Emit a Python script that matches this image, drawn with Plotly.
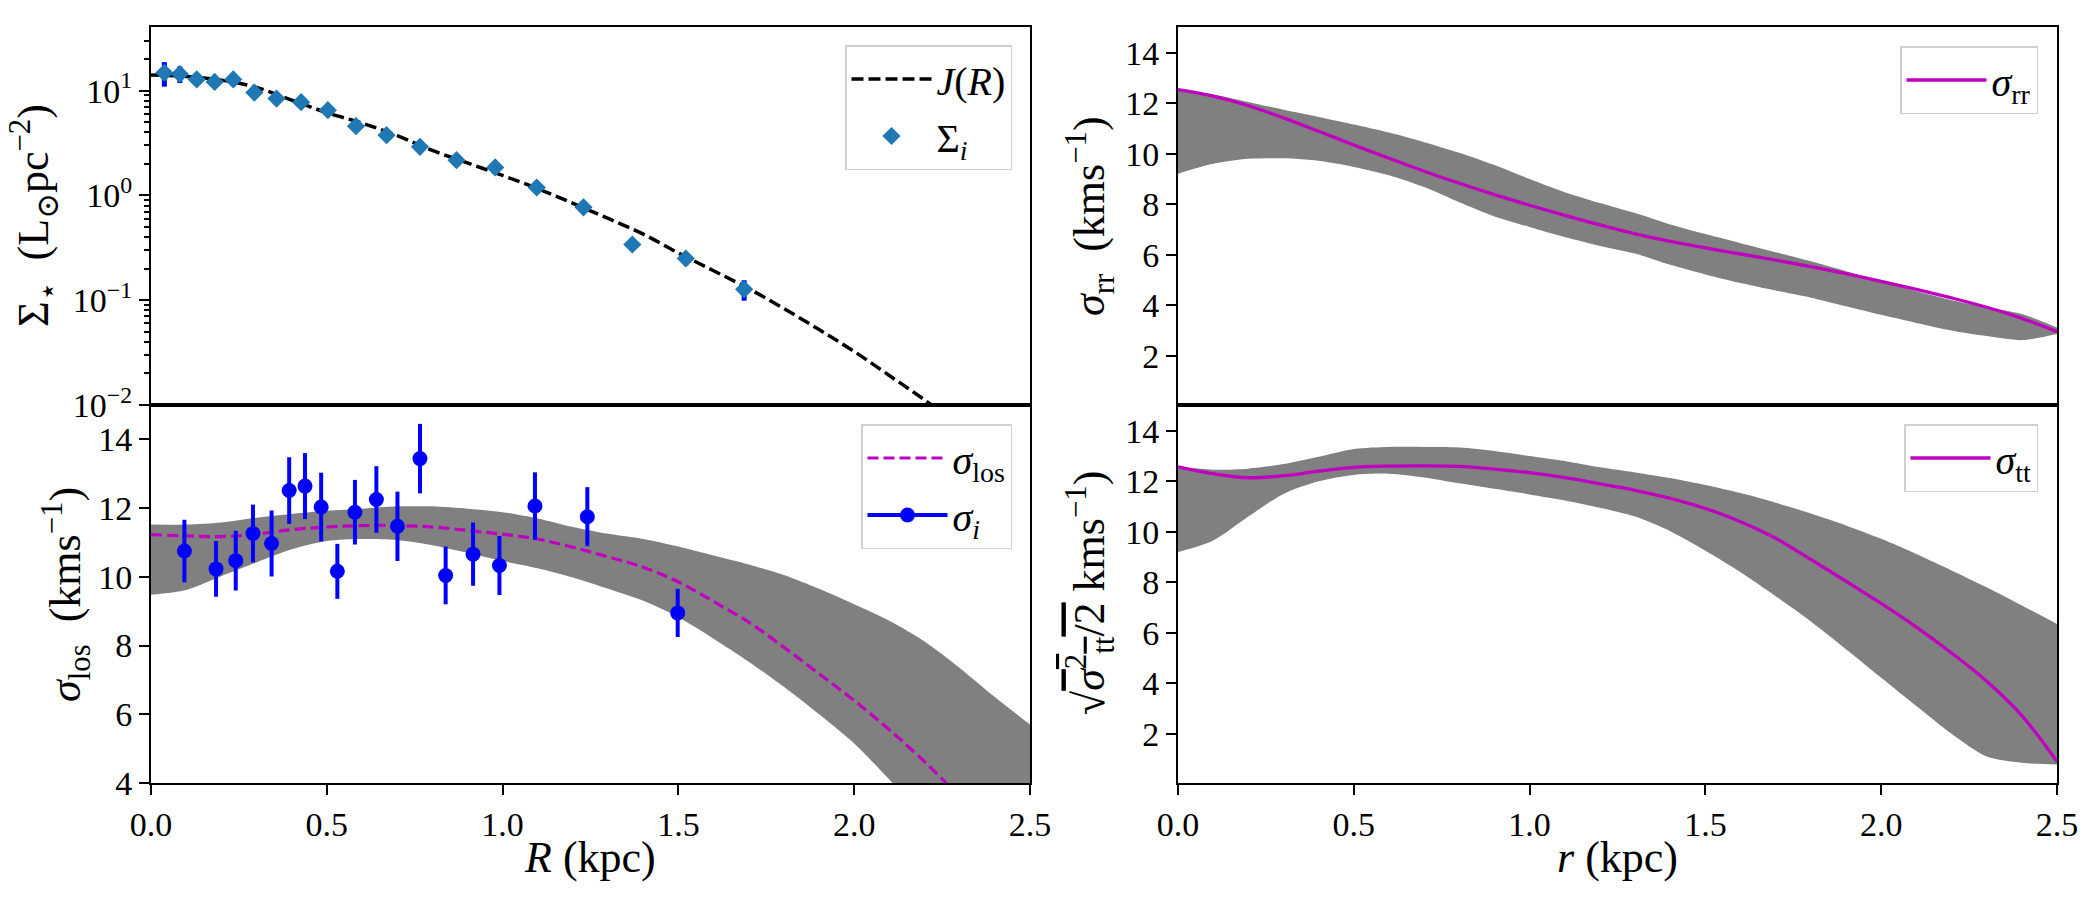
import plotly.graph_objects as go

# ---------------- data ----------------
# Top-left: surface density
R_sig = [0.038, 0.082, 0.130, 0.181, 0.234, 0.294, 0.357, 0.427, 0.503, 0.583,
         0.670, 0.765, 0.869, 0.979, 1.097, 1.230, 1.369, 1.521, 1.687]
Sig = [14.8, 14.4, 12.8, 12.1, 12.8, 9.57, 8.4, 7.75, 6.5, 4.58,
       3.76, 2.91, 2.17, 1.85, 1.19, 0.77, 0.34, 0.25, 0.127]
Sig_err = [3.9, 2.6, 1.0, 0.9, 0.9, 0.7, 0.6, 0.55, 0.45, 0.32,
           0.26, 0.2, 0.15, 0.13, 0.08, 0.055, 0.04, 0.035, 0.028]

R_J = [0.0, 0.1, 0.2, 0.3, 0.4, 0.5, 0.6, 0.7, 0.8, 0.9, 1.0, 1.1, 1.2,
       1.3, 1.4, 1.5, 1.6, 1.7, 1.8, 1.9, 2.0, 2.1, 2.2, 2.3]
J_vals = [14.13, 13.65, 12.59, 10.72, 8.13, 6.17, 4.90, 3.72, 2.69, 2.04, 1.55, 1.16,
          0.841, 0.603, 0.427, 0.282, 0.191, 0.129, 0.0832, 0.0525, 0.0324,
          0.0191, 0.0112, 0.0063]

# Bottom-left: line-of-sight dispersion
R_los_pts = [0.095, 0.185, 0.241, 0.290, 0.343, 0.393, 0.438, 0.484, 0.530, 0.580,
             0.641, 0.701, 0.765, 0.838, 0.916, 0.991, 1.092, 1.241, 1.498]
sig_i = [10.75, 10.23, 10.47, 11.26, 10.97, 12.51, 12.64, 12.03, 10.16, 11.88,
         12.25, 11.47, 13.44, 10.04, 10.66, 10.33, 12.06, 11.75, 8.95]
sig_i_err = [0.91, 0.81, 0.87, 0.84, 0.96, 0.97, 0.96, 1.0, 0.8, 0.94,
             0.97, 1.01, 1.01, 0.84, 0.92, 0.86, 0.98, 0.86, 0.7]

R_grid = [0.0, 0.1, 0.2, 0.3, 0.4, 0.5, 0.6, 0.7, 0.8, 0.9, 1.0, 1.1, 1.2,
          1.3, 1.4, 1.5, 1.6, 1.7, 1.8, 1.9, 2.0, 2.1, 2.2, 2.3, 2.4, 2.5]

sig_los = [11.23, 11.19, 11.17, 11.24, 11.37, 11.45, 11.49, 11.49, 11.45, 11.35,
           11.24, 11.10, 10.86, 10.58, 10.28, 9.85, 9.28, 8.68, 7.95, 7.18,
           6.40, 5.55, 4.62, 3.6]
los_up = [11.52, 11.52, 11.58, 11.72, 11.83, 11.92, 11.98, 12.05, 12.05, 11.98,
          11.88, 11.7, 11.45, 11.25, 11.1, 10.88, 10.62, 10.36, 10.05, 9.65,
          9.2, 8.72, 8.12, 7.35, 6.5, 5.7]
los_lo = [9.48, 9.62, 10.02, 10.42, 10.8, 11.04, 11.1, 11.07, 10.92, 10.7,
          10.46, 10.25, 9.98, 9.65, 9.3, 8.82, 8.2, 7.53, 6.8, 6.0,
          5.15, 4.1, 3.0, 2.0, 1.5, 1.0]

# Top-right: radial dispersion
sig_rr = [12.54, 12.28, 11.90, 11.42, 10.89, 10.35, 9.82, 9.31, 8.83, 8.38,
          7.96, 7.56, 7.18, 6.83, 6.53, 6.27, 6.03, 5.79, 5.53, 5.25,
          4.95, 4.63, 4.29, 3.92, 3.48, 2.95]
rr_up = [12.54, 12.35, 12.05, 11.74, 11.46, 11.16, 10.84, 10.46, 10.04, 9.55,
         9.0, 8.48, 8.05, 7.65, 7.2, 6.82, 6.46, 6.1, 5.74, 5.35,
         4.95, 4.55, 4.2, 3.92, 3.65, 3.12]
rr_lo = [9.21, 9.6, 9.8, 9.82, 9.72, 9.48, 9.15, 8.68, 8.08, 7.52,
         7.1, 6.7, 6.35, 6.05, 5.6, 5.22, 4.88, 4.58, 4.3, 3.96,
         3.62, 3.3, 3.0, 2.78, 2.62, 2.86]

# Bottom-right: tangential dispersion
sig_tt = [12.57, 12.3, 12.14, 12.22, 12.4, 12.55, 12.6, 12.61, 12.59, 12.48,
          12.34, 12.14, 11.9, 11.64, 11.32, 10.92, 10.4, 9.74, 8.9, 8.04,
          7.16, 6.22, 5.2, 4.08, 2.72, 0.9]
tt_up = [12.57, 12.46, 12.5, 12.68, 12.97, 13.28, 13.36, 13.36, 13.34, 13.2,
         13.0, 12.8, 12.55, 12.35, 12.13, 11.85, 11.53, 11.15, 10.72, 10.25,
         9.72, 9.12, 8.47, 7.8, 7.08, 6.35]
tt_lo = [9.19, 9.65, 10.6, 11.5, 12.0, 12.25, 12.3, 12.15, 11.92, 11.7,
         11.48, 11.24, 10.95, 10.6, 10.02, 9.25, 8.4, 7.45, 6.45, 5.35,
         4.22, 3.1, 2.0, 1.1, 0.85, 0.78]

x_ticks = [0.0, 0.5, 1.0, 1.5, 2.0, 2.5]

# ---------------- style ----------------
W, H = 2100, 900
FONT = "Liberation Serif, Times New Roman, DejaVu Serif, serif"
TICK_SIZE = 34
TITLE_SIZE = 44
LEG_SIZE = 40
MAG = "#BF00BF"
GRAY = "#808080"

def px(x):
    return x / W

def py(y):
    return 1 - y / H

xL = [px(151), px(1030)]
xR = [px(1178), px(2057)]
yT = [py(405), py(27)]
yB = [py(783), py(405)]

fig = go.Figure()

# ---- top-left ----
fig.add_trace(go.Scatter(x=R_J, y=J_vals, mode="lines", name="<i>J</i>(<i>R</i>)",
                         line=dict(color="black", width=3.5, dash="12px,5px", shape="spline"),
                         xaxis="x", yaxis="y", legend="legend", legendgroup="a"))
fig.add_trace(go.Scatter(x=R_sig, y=Sig, mode="markers", name="Σ<sub><i>i</i></sub>",
                         marker=dict(symbol="diamond", size=14, color="#1f77b4"),
                         error_y=dict(type="data", array=Sig_err, color="blue",
                                      thickness=5, width=0),
                         xaxis="x", yaxis="y", legend="legend", legendgroup="b"))

# ---- bottom-left ----
band = dict(mode="lines", line=dict(width=0, color=GRAY, shape="spline", smoothing=0.8),
            showlegend=False, hoverinfo="skip")
fig.add_trace(go.Scatter(x=R_grid, y=los_lo, xaxis="x2", yaxis="y2", **band))
fig.add_trace(go.Scatter(x=R_grid, y=los_up, fill="tonexty", fillcolor=GRAY,
                         xaxis="x2", yaxis="y2", **band))
fig.add_trace(go.Scatter(x=R_grid[:len(sig_los)], y=sig_los, mode="lines",
                         name="<i>σ</i><sub>los</sub>",
                         line=dict(color=MAG, width=3.2, dash="11px,5px", shape="spline"),
                         xaxis="x2", yaxis="y2", legend="legend2", legendgroup="c"))
fig.add_trace(go.Scatter(x=R_los_pts, y=sig_i, mode="markers", name="<i>σ</i><sub><i>i</i></sub>",
                         marker=dict(symbol="circle", size=15, color="blue"),
                         error_y=dict(type="data", array=sig_i_err, color="blue",
                                      thickness=4, width=0),
                         showlegend=False, xaxis="x2", yaxis="y2"))
fig.add_trace(go.Scatter(x=[None], y=[None], mode="lines+markers",
                         name="<i>σ</i><sub><i>i</i></sub>",
                         marker=dict(symbol="circle", size=15, color="blue"),
                         line=dict(color="blue", width=4),
                         xaxis="x2", yaxis="y2", legend="legend2", legendgroup="d"))

# ---- top-right ----
fig.add_trace(go.Scatter(x=R_grid, y=rr_lo, xaxis="x3", yaxis="y3", **band))
fig.add_trace(go.Scatter(x=R_grid, y=rr_up, fill="tonexty", fillcolor=GRAY,
                         xaxis="x3", yaxis="y3", **band))
fig.add_trace(go.Scatter(x=R_grid, y=sig_rr, mode="lines", name="<i>σ</i><sub>rr</sub>",
                         line=dict(color=MAG, width=3.3, shape="spline"),
                         xaxis="x3", yaxis="y3", legend="legend3"))

# ---- bottom-right ----
fig.add_trace(go.Scatter(x=R_grid, y=tt_lo, xaxis="x4", yaxis="y4", **band))
fig.add_trace(go.Scatter(x=R_grid, y=tt_up, fill="tonexty", fillcolor=GRAY,
                         xaxis="x4", yaxis="y4", **band))
fig.add_trace(go.Scatter(x=R_grid, y=sig_tt, mode="lines", name="<i>σ</i><sub>tt</sub>",
                         line=dict(color=MAG, width=3.3, shape="spline"),
                         xaxis="x4", yaxis="y4", legend="legend4"))

axis_common = dict(showline=True, linecolor="black", linewidth=2, mirror=True,
                   showgrid=False, zeroline=False, automargin=False,
                   tickfont=dict(family=FONT, size=TICK_SIZE, color="black"))

def xaxis(domain, anchor, labels):
    d = dict(axis_common, domain=domain, anchor=anchor, range=[0, 2.5])
    if labels:
        d.update(tickmode="array", tickvals=x_ticks, ticktext=[f"{v:.1f}" for v in x_ticks],
                 ticks="outside", ticklen=10, tickwidth=2, tickcolor="black")
    else:
        d.update(showticklabels=False, ticks="")
    return d

def yaxis(domain, anchor, rng, tickvals, ticktext=None, log=False):
    d = dict(axis_common, domain=domain, anchor=anchor, range=rng, tickmode="array",
             tickvals=tickvals, ticks="outside", ticklen=10, tickwidth=2, tickcolor="black")
    if ticktext is not None:
        d["ticktext"] = ticktext
    if log:
        d["type"] = "log"
    return d

minor_vals = [m * 10 ** e for e in (-2, -1, 0, 1) for m in range(2, 10) if m * 10 ** e < 40]

legend_common = dict(bgcolor="rgba(255,255,255,0.85)", bordercolor="#d0d0d0", borderwidth=1.5,
                     font=dict(family=FONT, size=LEG_SIZE, color="black"),
                     xanchor="right", yanchor="top", itemwidth=80,
                     traceorder="grouped", tracegroupgap=2)

fig.update_layout(
    width=W, height=H,
    margin=dict(l=0, r=0, t=0, b=0, autoexpand=False),
    paper_bgcolor="white", plot_bgcolor="white",
    font=dict(family=FONT, color="black"),
    xaxis=xaxis(xL, "y", False),
    xaxis2=xaxis(xL, "y2", True),
    xaxis3=xaxis(xR, "y3", False),
    xaxis4=xaxis(xR, "y4", True),
    yaxis=dict(yaxis(yT, "x", [-2, 1.607], [0.01, 0.1, 1, 10],
                     ["10<sup>−2</sup>", "10<sup>−1</sup>", "10<sup>0</sup>", "10<sup>1</sup>"],
                     log=True),
               minor=dict(tickmode="array", tickvals=minor_vals, ticks="outside",
                          ticklen=5, tickwidth=1.5, tickcolor="black")),
    yaxis2=yaxis(yB, "x2", [4, 15], [4, 6, 8, 10, 12, 14]),
    yaxis3=yaxis(yT, "x3", [0.05, 15.02], [2, 4, 6, 8, 10, 12, 14]),
    yaxis4=yaxis(yB, "x4", [0.05, 15.02], [2, 4, 6, 8, 10, 12, 14]),
    legend=dict(legend_common, x=px(1012), y=py(45)),
    legend2=dict(legend_common, x=px(1012), y=py(424)),
    legend3=dict(legend_common, x=px(2038), y=py(46)),
    legend4=dict(legend_common, x=px(2038), y=py(424)),
    showlegend=True,
)

def title(text, x, y, angle=0):
    fig.add_annotation(text=text, x=px(x), y=py(y), xref="paper", yref="paper",
                       xanchor="center", yanchor="middle", showarrow=False,
                       textangle=angle, font=dict(family=FONT, size=TITLE_SIZE, color="black"))

title("Σ<sub>⋆</sub>\u2002(L<sub>⊙</sub>pc<sup>−2</sup>)", 34, 216, -90)
title("<i>σ</i><sub>los</sub>\u2002(kms<sup>−1</sup>)", 66, 595, -90)
title("<i>σ</i><sub>rr</sub>\u2002(kms<sup>−1</sup>)", 1090, 216, -90)
title("√<span style='text-decoration:overline'><i>σ</i><sup>2</sup><sub>tt</sub>/2</span> kms<sup>−1</sup>)",
      1090, 593, -90)
title("<i>R</i> (kpc)", 590, 857)
title("<i>r</i> (kpc)", 1617, 857)

fig.write_html("out.html")
